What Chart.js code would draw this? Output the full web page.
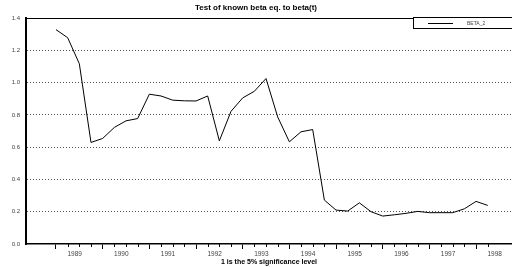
<!DOCTYPE html>
<html>
<head>
<meta charset="utf-8">
<script src="https://cdn.jsdelivr.net/npm/chart.js@4"></script>
<style>
html,body{margin:0;padding:0;background:#fff;}
#wrap{width:512px;height:267px;position:relative;}
</style>
</head>
<body>
<div id="wrap"><canvas id="c" width="512" height="267"></canvas></div>
<script>
const quarters = [
 "1988Q4","1989Q1","1989Q2","1989Q3","1989Q4","1990Q1","1990Q2","1990Q3",
 "1990Q4","1991Q1","1991Q2","1991Q3","1991Q4","1992Q1","1992Q2","1992Q3",
 "1992Q4","1993Q1","1993Q2","1993Q3","1993Q4","1994Q1","1994Q2","1994Q3",
 "1994Q4","1995Q1","1995Q2","1995Q3","1995Q4","1996Q1","1996Q2","1996Q3",
 "1996Q4","1997Q1","1997Q2","1997Q3","1997Q4","1998Q1"
];
const beta2 = [
 1.328,1.278,1.117,0.629,0.654,0.722,0.763,0.777,
 0.928,0.917,0.891,0.887,0.886,0.917,0.639,0.822,
 0.905,0.946,1.025,0.787,0.633,0.695,0.709,0.272,
 0.210,0.204,0.255,0.200,0.173,0.181,0.190,0.202,
 0.194,0.194,0.194,0.218,0.264,0.239
];
const yTicks = [0.0,0.2,0.4,0.6,0.8,1.0,1.2,1.4];
const seriesName = "BETA_2";
const titleText = "Test of known beta eq. to beta(t)";
const xTitleText = "1 is the 5% significance level";

const FONT = "Arial, 'Liberation Sans', sans-serif";

const extras = {
  id: 'extras',
  afterDraw(chart) {
    const ctx = chart.ctx, a = chart.chartArea;
    const xs = chart.scales.x;
    ctx.save();
    ctx.strokeStyle = '#000'; ctx.lineWidth = 1;
    ctx.beginPath(); ctx.moveTo(a.left, a.top + 0.5); ctx.lineTo(a.right, a.top + 0.5); ctx.stroke();
    quarters.forEach((q, i) => {
      if (i % 4 === 0) return;
      const px = Math.round(xs.getPixelForValue(i)) + 0.5;
      ctx.beginPath(); ctx.moveTo(px, a.bottom); ctx.lineTo(px, a.bottom + 3); ctx.stroke();
    });
    const lx = 413, ly = 17.5, lw = 100, lh = 11;
    ctx.fillStyle = '#fff';
    ctx.fillRect(lx, ly, lw, lh);
    ctx.strokeStyle = '#000'; ctx.lineWidth = 1;
    ctx.strokeRect(lx + 0.5, ly, lw, lh);
    ctx.beginPath(); ctx.moveTo(428, 23.5); ctx.lineTo(453, 23.5); ctx.stroke();
    ctx.fillStyle = '#444';
    ctx.font = '5px ' + FONT;
    ctx.textBaseline = 'middle';
    ctx.textAlign = 'left';
    ctx.fillText(chart.data.datasets[0].label, 467, 23.5);
    ctx.restore();
  }
};

new Chart(document.getElementById('c'), {
  type: 'line',
  data: {
    datasets: [{
      label: seriesName,
      data: beta2.map((v, i) => ({x: i, y: v})),
      borderColor: '#000',
      borderWidth: 1,
      pointRadius: 0,
      tension: 0,
      fill: false
    }]
  },
  options: {
    responsive: false,
    animation: false,
    devicePixelRatio: 1,
    layout: {padding: {left: 0, right: 0, top: 0, bottom: 0}},
    plugins: {
      legend: {display: false},
      tooltip: {enabled: false},
      title: {
        display: true,
        text: titleText,
        color: '#000',
        font: {family: FONT, size: 8, weight: 'bold'},
        padding: {top: 3, bottom: 5.4}
      }
    },
    scales: {
      x: {
        type: 'linear',
        min: -2.57,
        max: 39.08,
        afterFit: (s) => { s.height = 23; },
        afterBuildTicks: (s) => { s.ticks = quarters.map((q, i) => ({value: i})); },
        grid: {
          drawOnChartArea: false,
          drawTicks: true,
          tickLength: 5,
          tickColor: (ctx) => (ctx.tick && ctx.tick.value % 4 === 0) ? '#000' : 'rgba(0,0,0,0)'
        },
        border: {display: true, color: '#000', width: 1.5},
        ticks: {
          autoSkip: false,
          maxRotation: 0,
          minRotation: 0,
          padding: 1,
          labelOffset: 7,
          color: '#444',
          font: {family: FONT, size: 6.5},
          callback: (v) => {
            const q = quarters[v];
            return (q && q.endsWith('Q1')) ? q.slice(0, 4) : '';
          }
        },
        title: {
          display: true,
          text: xTitleText,
          color: '#000',
          font: {family: FONT, size: 7, weight: 'bold'},
          padding: {top: 0, bottom: 1}
        }
      },
      y: {
        min: 0,
        max: 1.4,
        afterFit: (s) => { s.width = 26; },
        afterBuildTicks: (s) => { s.ticks = yTicks.map(v => ({value: v})); },
        grid: {
          drawTicks: false,
          lineWidth: 1,
          color: (ctx) => (ctx.tick && (ctx.tick.value <= 0.001 || ctx.tick.value >= 1.399)) ? 'rgba(0,0,0,0)' : '#555'
        },
        border: {display: true, color: '#000', width: 2, dash: [1, 2]},
        ticks: {
          padding: 6,
          color: '#444',
          font: {family: FONT, size: 6},
          callback: (v) => Number(v).toFixed(1)
        }
      }
    }
  },
  plugins: [extras]
});
</script>
</body>
</html>
